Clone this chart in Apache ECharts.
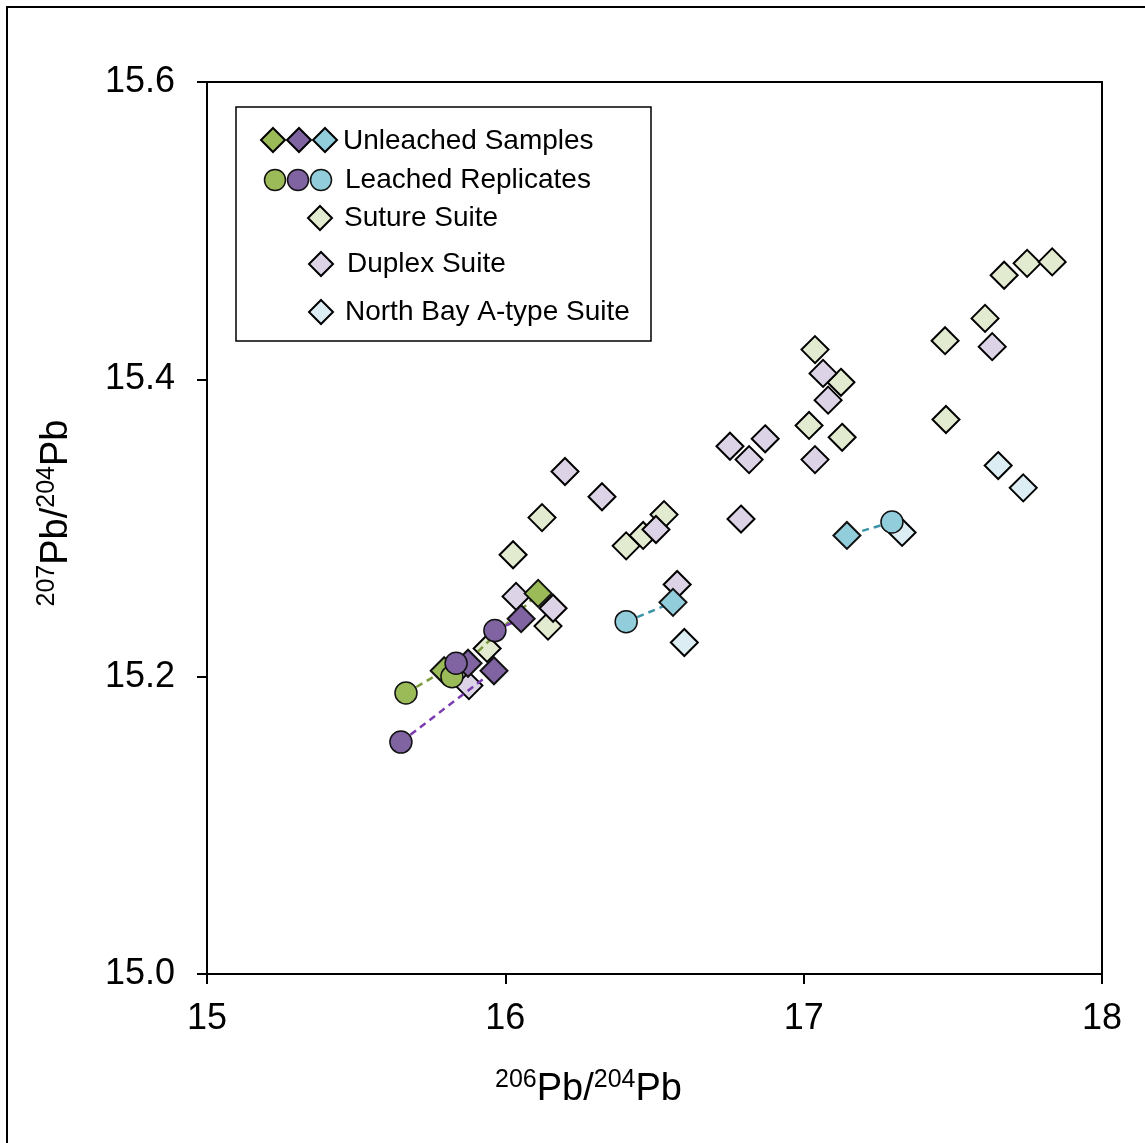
<!DOCTYPE html>
<html>
<head>
<meta charset="utf-8">
<script src="https://cdn.jsdelivr.net/npm/echarts@6/dist/echarts.min.js"></script>
<style>
  html, body { margin: 0; padding: 0; background: #fff; }
  #chart { width: 1145px; height: 1143px; }
</style>
</head>
<body>
<div id="chart"></div>
<script>
// x = 206Pb/204Pb, y = 207Pb/204Pb
var xTicks = [15, 16, 17, 18]
var yTicks = [15.0, 15.2, 15.4, 15.6]

var sutureSuite = [
    [15.939, 15.219], [16.026, 15.282], [16.123, 15.307], [16.143, 15.234],
    [16.405, 15.288], [16.462, 15.295], [16.532, 15.309], [17.018, 15.369],
    [17.038, 15.420], [17.125, 15.398], [17.129, 15.361], [17.474, 15.426],
    [17.477, 15.373], [17.608, 15.441], [17.672, 15.470], [17.749, 15.478],
    [17.833, 15.479]
]
var duplexSuite = [
    [15.878, 15.194], [16.036, 15.254], [16.160, 15.246], [16.200, 15.338],
    [16.324, 15.321], [16.505, 15.299], [16.576, 15.262], [16.753, 15.355],
    [16.790, 15.306], [16.817, 15.346], [16.871, 15.360], [17.038, 15.346],
    [17.065, 15.404], [17.082, 15.386], [17.632, 15.422]
]
var northBaySuite = [
    [16.600, 15.223], [17.330, 15.297], [17.652, 15.342], [17.736, 15.327]
]

// unleached sample i pairs with leached replicate i
var unleachedGreen = [[15.795, 15.204], [16.110, 15.256]]
var leachedGreen = [[15.667, 15.189], [15.821, 15.200]]
var unleachedPurple = [[15.962, 15.204], [15.875, 15.209], [16.053, 15.239]]
var leachedPurple = [[15.650, 15.156], [15.835, 15.209], [15.965, 15.231]]
var unleachedBlue = [[16.562, 15.250], [17.145, 15.295]]
var leachedBlue = [[16.405, 15.237], [17.296, 15.304]]

var FONT = 'Liberation Sans'
var green = '#9bbb59', purple = '#8064a2', blue = '#92cddc'
var DIAMOND = 27, CIRCLE = 22

function pairLines(a, b, color) {
    return a.map(function (p, i) {
        return {
            type: 'line', data: [b[i], p], symbol: 'none', silent: true, z: 3,
            lineStyle: {color: color, width: 2.5, type: [7, 5]}
        }
    })
}

function suite(data, fill) {
    return {
        type: 'scatter', data: data, symbol: 'diamond', symbolSize: DIAMOND, z: 2,
        itemStyle: {color: fill, borderColor: '#000', borderWidth: 2, opacity: 1}
    }
}

function marks(data, fill, symbol, size, z) {
    return {
        type: 'scatter', data: data, symbol: symbol, symbolSize: size, z: z,
        itemStyle: {color: fill, borderColor: '#111', borderWidth: symbol == 'circle' ? 1.5 : 2, opacity: 1}
    }
}

// legend drawn by hand (three icons per row in the first two rows)
function legendGraphic() {
    var els = [{
        type: 'rect', shape: {x: 236, y: 107, width: 415, height: 234},
        style: {fill: '#fff', stroke: '#000', lineWidth: 1.5}
    }]
    function diamond(cx, cy, fill) {
        els.push({
            type: 'polygon', shape: {points: [[cx, cy - 12], [cx + 12, cy], [cx, cy + 12], [cx - 12, cy]]},
            style: {fill: fill, stroke: '#000', lineWidth: 2}
        })
    }
    function circle(cx, cy, fill) {
        els.push({type: 'circle', shape: {cx: cx, cy: cy, r: 10.5}, style: {fill: fill, stroke: '#111', lineWidth: 1.5}})
    }
    function label(x, y, s) {
        els.push({type: 'text', x: x, y: y, style: {text: s, font: '28px "' + FONT + '"', fill: '#000', verticalAlign: 'middle'}})
    }
    diamond(273, 140, green); diamond(299, 140, purple); diamond(325, 140, blue)
    label(343, 141, 'Unleached Samples')
    circle(275, 180, green); circle(298, 180, purple); circle(321, 180, blue)
    label(345, 180, 'Leached Replicates')
    diamond(320, 218, '#e2ebcf'); label(344, 218, 'Suture Suite')
    diamond(321, 264, '#dcd4e6'); label(347, 264, 'Duplex Suite')
    diamond(321, 312, '#dceef4'); label(345, 312, 'North Bay A-type Suite')
    return els
}

var chart = echarts.init(document.getElementById('chart'))
var series = [
    suite(sutureSuite, '#e2ebcf'),
    suite(duplexSuite, '#dcd4e6'),
    suite(northBaySuite, '#dceef4')
]
series = series.concat(pairLines(unleachedGreen, leachedGreen, '#7a9a3a'))
series = series.concat(pairLines(unleachedPurple, leachedPurple, '#7a3cb0'))
series = series.concat(pairLines(unleachedBlue, leachedBlue, '#3c94a8'))
series.push(marks(unleachedGreen, green, 'diamond', DIAMOND, 4))
series.push(marks(unleachedPurple, purple, 'diamond', DIAMOND, 4))
series.push(marks(unleachedBlue, blue, 'diamond', DIAMOND, 4))
series.push(marks(leachedGreen, green, 'circle', CIRCLE, 5))
series.push(marks(leachedPurple, purple, 'circle', CIRCLE, 5))
series.push(marks(leachedBlue, blue, 'circle', CIRCLE, 5))

var nameRich = {
    sup: {fontSize: 25, fontFamily: FONT, color: '#000', verticalAlign: 'top', lineHeight: 44},
    big: {fontSize: 38, fontFamily: FONT, color: '#000', lineHeight: 44}
}

let option = {
    animation: false,
    backgroundColor: '#fff',
    grid: {left: 207, right: 43, top: 82, bottom: 169, show: true, borderColor: '#000', borderWidth: 2},
    xAxis: {
        type: 'value', min: xTicks[0], max: xTicks[xTicks.length - 1], interval: 1,
        name: '{sup|206}{big|Pb/}{sup|204}{big|Pb}',
        nameLocation: 'middle', nameGap: 94,
        nameTextStyle: {rich: nameRich, padding: [0, 132, 0, 0]},
        axisLine: {lineStyle: {color: '#000', width: 2}},
        axisTick: {length: 10, lineStyle: {color: '#000', width: 2}},
        axisLabel: {color: '#000', fontSize: 36, fontFamily: FONT, margin: 27},
        splitLine: {show: false}
    },
    yAxis: {
        type: 'value', min: yTicks[0], max: yTicks[yTicks.length - 1], interval: 0.2,
        name: '{sup|207}{big|Pb/}{sup|204}{big|Pb}',
        nameLocation: 'middle', nameGap: 128, nameRotate: 90,
        nameTextStyle: {rich: nameRich, padding: [0, 0, 0, 30]},
        axisLine: {lineStyle: {color: '#000', width: 2}},
        axisTick: {length: 10, lineStyle: {color: '#000', width: 2}},
        axisLabel: {
            color: '#000', fontSize: 36, fontFamily: FONT, margin: 32,
            formatter: function (v) { return v.toFixed(1) }
        },
        splitLine: {show: false}
    },
    graphic: [{
        type: 'rect', shape: {x: 7, y: 7, width: 1150, height: 1150}, silent: true, z: -1,
        style: {fill: 'none', stroke: '#000', lineWidth: 2}
    }].concat(legendGraphic()),
    series: series
};
chart.setOption(option)
</script>
</body>
</html>
